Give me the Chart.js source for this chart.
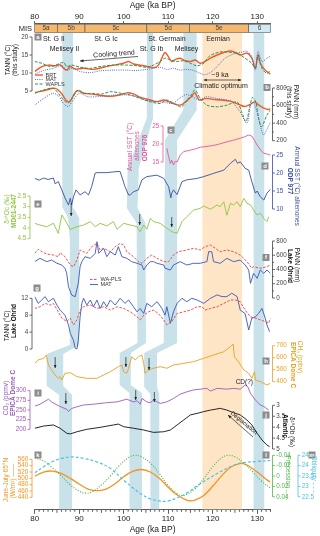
<!DOCTYPE html>
<html><head><meta charset="utf-8">
<script src="https://cdn.jsdelivr.net/npm/chart.js@4.4.1/dist/chart.umd.min.js"></script>
<style>html,body{margin:0;padding:0;background:#fff}#wrap{width:320px;height:536px;position:relative}</style>
</head><body><div id="wrap"><canvas id="c"></canvas></div>
<script>
// ================= DATA =================
const ageTicks = [80, 90, 100, 110, 120, 130];
const misEdges = [80, 85.1, 91.3, 105.2, 114.8, 128.1, 133];
const misNames = ['5a', '5b', '5c', '5d', '5e', '6'];

// (a) TANN this study
const aBrtAge = [80,81.6,83.1,84.6,85.7,86.5,87.2,88.0,89.1,91.0,93.2,95.5,97.7,100,101.1,102.2,104.5,106.7,107.8,108.7,109.3,110.1,110.8,111.7,112.7,113.8,115.0,116.1,117.2,118.3,119.5,121,122.5,124,125.1,126.2,127.7,128.8,129.6,130.2,130.7,131.8,133];
const aBrtVal = [10.4,11.8,12.2,12.0,12.3,11.3,10.8,11.8,11.1,11.3,11.0,11.6,12.2,12.7,13.2,12.5,12.0,11.5,12.2,14.5,15.7,14.4,13.2,13.8,14.1,13.4,13.2,13.6,12.7,13.2,14.1,15.0,15.7,16.1,15.7,15.0,15.5,14.1,11.3,15.0,12.7,10.8,9.7];
const aMatAge = [80,82,84.2,86.1,87.2,88.3,90.2,92.5,94.7,97.7,100.7,103,105.2,106.7,108.2,109.7,111.2,112.7,114.2,115.7,117.2,118.3,119.8,121.3,122.8,124.7,126.2,127.7,128.8,129.6,130.2,131.1,132.2,133];
const aMatVal = [9.7,10.7,11.3,12.0,10.8,11.3,10.4,10.1,10.6,10.8,10.8,10.7,11.0,11.3,11.6,11.0,11.3,10.8,11.0,10.7,9.9,9.5,10.4,12.2,14.1,15.3,15.7,16.0,14.5,10.8,16.0,13.2,14.1,14.7];
const aWapAge = [80,81.6,83.5,85.3,86.5,87.2,88.3,90.2,92.5,94.7,97.7,100.7,103,105.2,106.7,108.2,109.3,110.5,112,113.5,115,116.5,118,119.1,120.6,122.1,124,125.5,127.3,128.8,129.6,130.2,131.1,132.2,133];
const aWapVal = [13.2,12.7,11.8,12.5,12.9,11.8,12.2,11.6,11.3,11.8,12.2,12.2,12.0,11.6,12.2,13.2,14.1,13.6,13.2,13.4,12.7,12.0,12.7,14.5,15.5,15.9,15.7,15.5,14.1,12.7,11.3,15.0,11.3,9.9,10.8];

// (b) PANN this study
const bBrtAge = [80,82,84.6,86,87,87.8,89.5,91,93,95,97,99,100.7,102,104,106,107.5,109,111,112.7,114,115.2,116,117,118.5,120,122,124,126,127.2,128.3,129.4,130.4,131.4,132.5,133];
const bBrtVal = [747,769,796,740,663,643,769,740,730,715,705,720,745,735,690,663,645,663,625,605,645,700,745,663,682,670,663,650,610,590,610,640,605,575,555,565];
const bMatAge = [80,82,84.2,85.5,86.5,87.5,88.5,90,92,95,98,101,103,105,107,109,111,112.5,114,115.5,117,118.5,121,124,126,127.7,128.5,129.2,130,131.4,132.2,133];
const bMatVal = [605,680,740,700,620,590,650,740,700,705,720,720,700,660,645,640,625,680,725,700,663,700,680,650,540,400,600,630,520,265,330,415];
const bWapAge = [80,82,84.2,86.5,87.6,89.8,91,93,95,97,99.5,101.5,103.7,106,108.2,109.7,112,113,114.2,115.2,116,117.2,118.7,121,123.2,125.5,126.5,127.5,128.9,129.7,130.3,131,132.2,133];
const bWapVal = [739,777,796,663,632,777,739,739,730,758,739,720,682,643,624,663,605,586,663,720,777,682,605,586,605,640,530,420,690,640,459,360,493,550];

// (c) ODP 976 SST
const cAge = [109.7,110.1,110.5,110.8,111.2,111.6,112,112.7,113.5,114.3,115,116,117.2,118.5,120.2,121.5,123.2,124.5,126.2,127.2,128.1,128.8,129.4,130,130.8,131.5,132.3,133];
const cVal = [18.8,16.5,14.6,15.5,14.2,15.2,15.0,16.9,17.9,18.1,18.3,18.6,19.1,19.3,19.6,20.0,20.6,21.0,21.6,22.0,22.5,22.2,21.0,19.7,18.3,17.4,17.2,16.9];

// (d) ODP 977 SST
const dAge = [80,81,82,83,84.2,84.6,85.3,86.1,86.8,87.6,88,88.3,88.7,89.3,90.2,91.3,92.1,92.8,93.6,94,96.2,98.5,99.2,100.3,101.1,101.5,102.2,103.3,104.1,105.2,107.5,109,110.1,110.6,110.8,111.2,112,113.1,114.2,116.5,118,120.2,122.5,124,125.1,125.6,126.2,127.3,128.1,128.8,129.6,130,130.7,131.5,132.2,133];
const dVal = [18.5,18.0,18.6,18.2,18.6,17.0,17.6,15.3,13.1,11.1,13.0,11.2,13.4,15.3,13.9,14.8,13.9,16.2,20.0,20.1,20.1,20.4,20.4,16.2,13.9,13.9,14.8,15.3,18.1,19.0,19.4,18.5,16.2,13.1,14.4,15.3,14.0,17.6,18.1,18.5,19.0,19.9,20.8,22.7,23.8,22.7,23.1,21.3,20.8,17.6,14.4,15.0,13.4,12.5,14.4,15.5];

// (e) d18O MD01-2447
const eAge = [80,81.2,82.7,84.2,85.3,86.1,86.8,88,89.5,91,92.5,93.6,94.7,96.2,97.7,98.5,100,101.5,103,103.7,104.5,105.2,106,106.7,108.2,109.7,110.8,112,113.1,114.2,115.7,117.2,118,119.5,121,121.7,122.5,123.2,124,124.7,125.5,126.2,127,127.7,128.5,129.2,130,130.7,131.5,132.2,132.6];
const eVal = [3.78,3.86,3.94,3.78,4.25,3.39,3.62,4.06,3.94,3.86,3.70,3.94,3.78,3.90,3.70,4.06,3.78,3.86,3.94,4.17,3.86,4.06,3.55,3.70,3.78,4.01,4.17,4.25,3.70,3.47,3.16,3.08,2.97,3.12,2.92,3.0,2.77,3.40,2.84,2.92,2.77,3.0,2.61,2.84,2.92,3.16,3.39,3.31,3.55,3.70,3.47];

// (f) PANN Lake Ohrid
const fWaAge = [80,80.8,81.6,82.7,84.2,85.3,85.7,86.8,88,88.7,89.5,90.2,91.7,92.8,94,94.7,95.5,97,98.1,99.2,100,100.7,102.2,103.3,104.1,105.2,106.3,107.5,109,110.1,111.2,112.3,114.2,115.7,117.2,118.3,119.5,120.6,121.7,123.2,124.7,126.2,127.7,128.8,129.2,130.7,132.2,133];
const fWaVal = [627,683,650,617,603,580,636,580,463,439,533,674,627,720,767,674,697,650,720,767,744,650,580,510,487,557,603,557,510,510,603,650,674,697,674,720,744,697,650,674,650,603,510,417,439,417,439,463];
const fMatAge = [80,81.2,82.7,83.8,85,86.1,86.8,87.2,87.6,88.3,89.1,89.8,90.2,90.6,91.3,92.5,93.6,94,94.4,95.5,96.2,97,98.1,98.8,99.6,100.7,101.8,103,104.1,104.5,105.2,106,106.7,107.5,109,109.3,110.5,111.2,112.7,114.2,115.7,117.2,118.7,119.1,119.8,120.2,121.7,123.2,124.7,126.2,127.3,128.1,128.5,129.2,130,130.7,131.5,132.2,133];
const fMatVal = [510,557,510,533,487,463,417,346,158,42,18,206,439,510,580,557,627,790,627,697,580,650,603,720,580,557,510,487,463,393,463,510,510,487,463,417,393,463,510,463,487,487,510,650,650,510,487,557,510,533,463,393,206,346,276,393,346,393,346];

// (g) TANN Lake Ohrid
const gMatAge = [80,80.8,81.6,82.3,83.1,84.2,85,85.7,86.8,87.6,88,88.7,89.1,89.5,89.8,90.2,90.6,91,91.7,92.5,93.2,94,94.7,95.5,96.2,97,98.1,99.2,100.3,101.1,102.2,103,103.7,104.5,105.2,106.3,107.5,108.6,109.3,109.7,110.5,111.2,112,113.1,114.2,115.3,116.5,118,119.5,121,122.1,123.2,124.3,125.5,126.2,127.3,128.1,128.8,129.6,130.3,131.1,131.8,132.2,132.8];
const gMatVal = [12.4,10.8,11.6,12.4,11.2,12.0,10.4,9.2,8.0,5.7,3.7,2.1,0.2,0.0,2.1,7.6,10.8,12.0,10.4,11.6,10.0,11.6,9.6,11.2,10.0,11.6,10.4,12.0,10.8,11.6,10.0,8.8,9.6,8.4,10.8,10.0,11.2,9.6,8.0,10.0,6.1,8.8,10.8,12.0,11.2,12.0,11.6,10.8,12.0,12.8,12.4,12.4,13.2,12.4,9.2,8.4,4.5,7.3,7.6,8.4,9.6,7.3,5.7,4.1];
const gWaAge = [80,81.2,82.3,83.5,84.2,85.3,86.1,87.2,88,88.7,89.5,90.2,91,92.5,94,95.5,97,98.5,100,101.5,103,103.7,104.5,105.6,106.7,107.8,109,109.7,110.8,112,113.5,115,116.5,117.6,118.3,119.5,121,122.5,124,125.1,126.2,127.3,128.5,129.6,130.7,131.8,132.6,133];
const gWaVal = [9.6,10.0,10.8,10.4,10.8,8.8,7.3,6.5,7.3,5.7,6.9,9.2,10.0,10.4,9.6,10.0,9.2,10.0,9.6,8.8,7.6,6.9,8.0,8.8,9.2,8.4,6.9,5.7,6.5,8.4,8.8,9.2,10.0,10.0,9.2,9.6,10.0,10.8,11.6,11.6,11.2,9.2,7.6,7.3,6.9,6.5,6.1,7.3];

// (h) CH4 EPICA Dome C
const hAge = [80,80.8,82,82.6,83.1,83.8,84.6,85.3,85.7,86.1,86.8,88,89.5,91.7,94,94.7,97,98.8,99.6,100,100.7,101.1,101.8,102.6,103.3,104.1,104.5,104.8,105.6,106.7,108.2,109.7,111.2,113.5,115.7,118,120.2,122.5,124,124.6,124.9,125.8,127,128.1,128.8,129.4,129.6,130.7,132.2,133];
const hVal = [553,581,595,622,539,498,456,428,442,414,470,475,442,428,428,442,483,525,539,483,470,512,608,581,608,622,553,470,498,512,525,512,539,553,567,595,622,650,692,714,608,567,498,470,428,483,414,400,373,387];

// (i) CO2 EPICA Dome C
const iAge = [80,81.2,83.1,83.8,85,86.1,87.2,87.6,88.3,89.1,91,93.2,96.2,98.5,100.7,102.2,103,103.7,104.1,105.2,106,106.7,107.5,108.2,109.7,111.2,112.7,114.2,115.7,117.2,118.7,119.5,121,123.2,124.7,126.2,127.3,127.9,128.5,129.6,130.7,131.5,132.6];
const iVal = [260,265,278,271,263,257,252,246,254,257,263,265,269,271,278,271,274,265,280,271,269,276,271,267,271,280,291,297,302,304,306,299,306,304,306,304,315,310,293,276,263,259,250];

// (j) benthic d18O Atlantic
const jAge = [80,82,84.2,85.7,87.2,88,89.5,91.7,94.7,97.7,98.8,100,102.2,104.5,106.7,109,110.5,112,113.5,115,116.5,118,119.5,121.7,123.2,124.7,126.2,127.7,128.8,130,131.1,132.2,132.8];
const jVal = [4.05,3.95,3.90,4.05,4.28,4.31,4.21,4.10,4.01,3.90,3.86,3.98,4.05,4.13,4.24,4.21,4.13,3.90,3.67,3.44,3.37,3.29,3.22,3.14,3.22,3.34,3.44,3.67,3.90,4.28,4.59,4.82,4.89];

// (k) June-July insolation 65N, (l) precession, (m) obliquity
const kAge = [80,82,84,86,88,90,92,94,96,98,100,102,104,106,108,110,112,114,115,116,118,120,122,124,126,127,128,130,132,133];
const kVal = [507,520,523,515,500,482,466,461,466,482,505,522,528,520,500,472,447,432,429,431,446,475,508,535,547,546,540,520,497,488];
const lAge = [80,82,84,86,88,90,91.5,93,95,97,99,101,102.5,104,106,108,110,112,113,114,116,118,120,122,123.5,125,127,129,131,133];
const lVal = [-0.035,-0.029,-0.016,0.0,0.017,0.029,0.033,0.03,0.017,0.0,-0.02,-0.035,-0.04,-0.037,-0.025,-0.005,0.018,0.034,0.038,0.036,0.025,0.005,-0.018,-0.035,-0.04,-0.037,-0.025,-0.008,0.01,0.023];
const mAge = [80,82,84,86,88.5,91,94,97,100,102,104,106,108,110,112,114,117,121,124.7,127,130,133];
const mVal = [23.65,23.95,24.2,24.35,24.42,24.35,24.18,23.87,23.3,22.95,22.62,22.4,22.3,22.3,22.45,22.66,23.1,23.62,24.02,24.15,24.2,24.25];

// tick labels of the panel axes
const aTicks = [5, 10, 15, 20];
const bTicks = [200, 400, 600, 800];
const cTicks = [15, 20, 25];
const dTicks = [10, 15, 20, 25];
const eTicks = [2.5, 3, 3.5, 4, 4.5];
const fTicks = [0, 200, 400, 600, 800];
const gTicks = [0, 4, 8, 12];
const hTicks = [400, 500, 600, 700];
const iTicks = [200, 225, 250, 275, 300];
const jTicks = [3, 3.5, 4, 4.5, 5];
const kTicks = [440, 460, 480, 500, 520, 540, 560];
const lTicks = [-0.04, -0.02, 0, 0.02, 0.04];
const mTicks = [22.5, 23, 23.5, 24, 24.5];

// ================= LAYOUT / STYLE =================
const FONT = "'Liberation Sans', Arial, Helvetica, sans-serif";
Chart.defaults.font.family = FONT;

// vertical placement of each panel (value -> pixel anchors)
const panelPlace = {
  yA: {v1: 20, p1: 37, v2: 5, p2: 91},
  yB: {v1: 800, p1: 88, v2: 200, p2: 140.7},
  yC: {v1: 25, p1: 126, v2: 15, p2: 162},
  yD: {v1: 25, p1: 155, v2: 10, p2: 209},
  yE: {v1: 2.5, p1: 196, v2: 4.5, p2: 238.7},
  yF: {v1: 800, p1: 241, v2: 0, p2: 298},
  yG: {v1: 12, p1: 298.3, v2: 0, p2: 349},
  yH: {v1: 700, p1: 345.7, v2: 400, p2: 381.7},
  yI: {v1: 300, p1: 390.7, v2: 200, p2: 429.3},
  yJ: {v1: 3, p1: 405.3, v2: 5, p2: 449},
  yK: {v1: 560, p1: 459.4, v2: 440, p2: 497.3},
  yL: {v1: -0.04, p1: 455.3, v2: 0.04, p2: 496.8},
  yM: {v1: 24.5, p1: 455.3, v2: 22.5, p2: 496.8}
};
const COL = {
  brt: '#f15a2b', mat: '#5468cf', wap: '#2f9447', pink: '#e4559e', d: '#3a4da5', e: '#8dc540',
  wa: '#ee3d3d', matO: '#3957bd', h: '#e8a220', i: '#9b5cbd', j: '#111111', k: '#f7931e', l: '#4fb84a', m: '#4cc3df',
  ax: '#444444'
};
const yAxesDraw = [
  {id: 'yA', ticks: aTicks, x: 32, side: 'left', color: COL.ax},
  {id: 'yB', ticks: bTicks, x: 272.5, side: 'right', color: COL.ax, minor: true},
  {id: 'yC', ticks: cTicks, x: 163, side: 'left', color: COL.pink},
  {id: 'yD', ticks: dTicks, x: 272.5, side: 'right', color: COL.d},
  {id: 'yE', ticks: eTicks, x: 30, side: 'left', color: COL.e},
  {id: 'yF', ticks: fTicks, x: 272.5, side: 'right', color: COL.ax, minor: true},
  {id: 'yG', ticks: gTicks, x: 32, side: 'left', color: COL.ax},
  {id: 'yH', ticks: hTicks, x: 272.5, side: 'right', color: COL.h},
  {id: 'yI', ticks: iTicks, x: 30, side: 'left', color: COL.i},
  {id: 'yJ', ticks: jTicks, x: 272.5, side: 'right', color: COL.ax},
  {id: 'yK', ticks: kTicks, x: 32, side: 'left', color: COL.k},
  {id: 'yL', ticks: lTicks, x: 272.5, side: 'right', color: COL.l, fmt: v => v === 0 ? '0' : (v < 0 ? '-' : '') + Math.abs(v).toFixed(2)},
  {id: 'yM', ticks: mTicks, x: 298, side: 'right', color: COL.m}
];
// shaded intervals: [y px, left age, right age]
const blueBands = [
  [[33,86.2,88.6],[207,86.2,88.6],[218,87.5,90.0],[240,87.9,90.0],[345,87.9,90.0],[354,82.7,86.4],[386,82.7,86.4],[395,85.5,88.4],[512,85.5,88.4]],
  [[33,105.2,106.6],[118,105.2,106.6],[168,100.9,103.4],[208,100.7,103.1],[223,102.9,104.9],[343,103.1,105.0],[353,99.1,101.6],[385,99.1,101.6],[393,101.3,104.1],[512,101.3,104.1]],
  [[33,113.4,116.4],[110,113.4,116.4],[140,109.3,112.0],[343,109.0,112.0],[353,104.6,107.5],[387,104.6,107.5],[394,106.0,108.0],[512,106.0,108.0]],
  [[33,129.2,131.6],[512,129.2,131.6]]
];
const eemian = [117.7, 126.6];
const downArrows = [[88.2,203,216],[103.6,214,225],[110.8,217,227],[84.6,357,368],[100.5,357,367],[105.7,358,370],[87.0,393,404],[102.7,390,400],[106.9,392,402]];
const boxes = [['a',38,37],['b',267,87.5],['c',171,130],['d',265,166],['e',38,204],['f',266,257.5],['g',37,288],['h',266,361],['i',38,393],['j',266,415],['k',38,455],['l',266,455],['m',312,455]];
const T = 6.5; // axis title size
const texts = [
  {s:'St. G II', x:43, y:39, align:'left'},
  {s:'St. G Ic', x:106, y:39}, {s:'St. Germain', x:167, y:39}, {s:'Eemian', x:218, y:39},
  {s:'Melisey II', x:64.5, y:49}, {s:'St. G Ib', x:151.5, y:49}, {s:'Melisey', x:186.5, y:49},
  {s:'Cooling trend', x:114, y:54, rot:-0.07},
  {s:'~9 ka', x:220, y:75}, {s:'Climatic optimum', x:221, y:86},
  {s:'CD(?)', x:253, y:382, align:'right', size:6.5},
  {s:'Deglaciation', x:244, y:423, rot:0.7, size:6},
  {s:'MIS', x:32, y:28.5, align:'right', size:7.5},
  // axis titles
  {s:'TANN (°C)', x:8, y:60, rot:-Math.PI/2, size:T},
  {s:'(this study)', x:15, y:60, rot:-Math.PI/2, size:T},
  {s:'PANN (mm)', x:295.5, y:102, rot:Math.PI/2, size:T},
  {s:'(this study)', x:289, y:102, rot:Math.PI/2, size:T},
  {s:'Annual SST (°C)', x:130, y:147, rot:-Math.PI/2, color:COL.pink, size:T},
  {s:'alkenones', x:137.5, y:146, rot:-Math.PI/2, color:COL.pink, size:T},
  {s:'ODP 976', x:145, y:148, rot:-Math.PI/2, color:COL.pink, bold:true, size:T},
  {s:'Annual SST (°C) alkenones', x:297, y:186, rot:Math.PI/2, color:COL.d, size:T},
  {s:'ODP 977', x:289.5, y:181, rot:Math.PI/2, color:COL.d, bold:true, size:T},
  {s:'δ¹⁸Oc (‰)', x:7, y:209, rot:-Math.PI/2, color:COL.e, size:T},
  {s:'MD01-2447', x:14.5, y:211, rot:-Math.PI/2, color:COL.e, bold:true, size:T},
  {s:'PANN (mm)', x:297, y:265, rot:Math.PI/2, size:T},
  {s:'Lake Ohrid', x:289.5, y:266, rot:Math.PI/2, bold:true, color:'#111', size:T},
  {s:'TANN (°C)', x:7, y:326, rot:-Math.PI/2, size:T},
  {s:'Lake Ohrid', x:14.5, y:321, rot:-Math.PI/2, bold:true, color:'#111', size:T},
  {s:'CH₄ (ppbv)', x:300, y:357, rot:Math.PI/2, color:COL.h, size:T},
  {s:'EPICA Dome C', x:292.5, y:365, rot:Math.PI/2, color:COL.h, bold:true, size:T},
  {s:'CO₂ (ppmv)', x:6, y:398, rot:-Math.PI/2, color:COL.i, size:T},
  {s:'EPICA Dome C', x:13.5, y:393, rot:-Math.PI/2, color:COL.i, bold:true, size:T},
  {s:'δ¹⁸Ob (‰)', x:292, y:432, rot:Math.PI/2, size:T},
  {s:'Atlantic', x:285, y:426, rot:Math.PI/2, bold:true, color:'#111', size:T},
  {s:'June-July 65°N', x:6, y:480, rot:-Math.PI/2, color:COL.k, size:T},
  {s:'(W/m²) ——', x:13.5, y:481, rot:-Math.PI/2, color:COL.k, size:T},
  {s:'Precession ......', x:288, y:478, rot:Math.PI/2, color:COL.l, size:T},
  {s:'Obliquity - - -', x:314, y:474, rot:Math.PI/2, color:COL.m, size:T}
];

// ================= CHART =================
function ds(ages, vals, yId, color, width, dash, tension) {
  return {data: ages.map((a, i) => ({x: a, y: vals[i]})), xAxisID: 'x', yAxisID: yId,
    borderColor: color, backgroundColor: color, borderWidth: width, borderDash: dash || [],
    pointRadius: 0, tension: tension || 0, fill: false};
}
const datasets = [
  ds(aMatAge, aMatVal, 'yA', COL.mat, 1, [1, 1.2], 0.3),
  ds(aWapAge, aWapVal, 'yA', COL.wap, 1, [3, 1.5], 0.3),
  ds(aBrtAge, aBrtVal, 'yA', COL.brt, 1.4, [], 0.3),
  ds(bMatAge, bMatVal, 'yB', COL.mat, 1, [1, 1.2], 0.3),
  ds(bWapAge, bWapVal, 'yB', COL.wap, 1, [3, 1.5], 0.3),
  ds(bBrtAge, bBrtVal, 'yB', COL.brt, 1.4, [], 0.3),
  ds(cAge, cVal, 'yC', COL.pink, 0.9),
  ds(dAge, dVal, 'yD', COL.d, 0.9),
  ds(eAge, eVal, 'yE', COL.e, 0.9),
  ds(fWaAge, fWaVal, 'yF', COL.wa, 0.9, [2.5, 1.5]),
  ds(fMatAge, fMatVal, 'yF', COL.matO, 0.9),
  ds(gWaAge, gWaVal, 'yG', COL.wa, 0.9, [2.5, 1.5]),
  ds(gMatAge, gMatVal, 'yG', COL.matO, 0.9),
  ds(hAge, hVal, 'yH', COL.h, 0.9),
  ds(iAge, iVal, 'yI', COL.i, 0.9),
  ds(jAge, jVal, 'yJ', COL.j, 0.9),
  ds(lAge, lVal, 'yL', COL.l, 1.2, [1, 1.6], 0.4),
  ds(mAge, mVal, 'yM', COL.m, 1.2, [3, 2], 0.4),
  ds(kAge, kVal, 'yK', COL.k, 1.3, [], 0.4)
];

function txt(ctx, o) {
  ctx.save();
  ctx.translate(o.x, o.y);
  if (o.rot) ctx.rotate(o.rot);
  ctx.font = (o.bold ? 'bold ' : '') + (o.size || 7) + 'px ' + FONT;
  ctx.fillStyle = o.color || '#222';
  ctx.textAlign = o.align || 'center';
  ctx.textBaseline = 'middle';
  ctx.fillText(o.s, 0, 0);
  ctx.restore();
}
function head(ctx, x, y, ang, size) {
  const c = Math.cos(ang), s = Math.sin(ang);
  ctx.beginPath();
  ctx.moveTo(x, y);
  ctx.lineTo(x - size * c + size * 0.45 * s, y - size * s - size * 0.45 * c);
  ctx.lineTo(x - size * c - size * 0.45 * s, y - size * s + size * 0.45 * c);
  ctx.closePath(); ctx.fill();
}
function arrow(ctx, x1, y1, x2, y2, size, both) {
  ctx.beginPath(); ctx.moveTo(x1, y1); ctx.lineTo(x2, y2); ctx.stroke();
  const ang = Math.atan2(y2 - y1, x2 - x1);
  head(ctx, x2, y2, ang, size);
  if (both) head(ctx, x1, y1, ang + Math.PI, size);
}

const placePlugin = {
  id: 'place',
  afterLayout(chart) {
    const ca = chart.chartArea;
    for (const id in panelPlace) {
      const m = panelPlace[id], s = chart.scales[id];
      const k = (m.v2 - m.v1) / (m.p2 - m.p1);
      const vTop = m.v1 + (ca.top - m.p1) * k;
      const vBot = m.v1 + (ca.bottom - m.p1) * k;
      s.min = Math.min(vTop, vBot); s.max = Math.max(vTop, vBot);
      s.configure();
    }
  }
};

const decoPlugin = {
  id: 'deco',
  beforeDatasetsDraw(chart) {
    const ctx = chart.ctx, xs = chart.scales.x, ca = chart.chartArea;
    ctx.save();
    ctx.fillStyle = '#fde5c6';
    const ex0 = xs.getPixelForValue(eemian[0]), ex1 = xs.getPixelForValue(eemian[1]);
    ctx.fillRect(ex0, 33, ex1 - ex0, ca.bottom - 33 - 0.5);
    ctx.fillStyle = '#c9e1e8';
    blueBands.forEach(b => {
      ctx.beginPath();
      b.forEach((p, i) => { const y = Math.min(p[0], ca.bottom - 0.5); const x = xs.getPixelForValue(p[1]); i ? ctx.lineTo(x, y) : ctx.moveTo(x, y); });
      for (let i = b.length - 1; i >= 0; i--) { const y = Math.min(b[i][0], ca.bottom - 0.5); ctx.lineTo(xs.getPixelForValue(b[i][2]), y); }
      ctx.closePath(); ctx.fill();
    });
    ctx.restore();
  },
  afterDatasetsDraw(chart) {
    const ctx = chart.ctx, xs = chart.scales.x, ca = chart.chartArea;
    ctx.save();
    for (let i = 0; i < misNames.length; i++) {
      const x0 = xs.getPixelForValue(misEdges[i]), x1 = xs.getPixelForValue(misEdges[i + 1]);
      ctx.fillStyle = i < 5 ? '#f6b86c' : '#d3e9f2';
      ctx.fillRect(x0, 24.5, x1 - x0, 8);
      ctx.strokeStyle = '#555'; ctx.lineWidth = 0.6;
      ctx.strokeRect(x0, 24.5, x1 - x0, 8);
      txt(ctx, {s: misNames[i], x: (x0 + x1) / 2, y: 28.7, size: 6.5, color: '#444'});
    }
    ctx.strokeStyle = '#333'; ctx.lineWidth = 0.8;
    for (let a = 81; a <= 133; a++) {
      if (a % 10 === 0) continue;
      const x = xs.getPixelForValue(a), len = a % 5 === 0 ? 3 : 2;
      ctx.beginPath(); ctx.moveTo(x, ca.bottom); ctx.lineTo(x, ca.bottom + len); ctx.stroke();
    }
    yAxesDraw.forEach(ax => {
      const s = chart.scales[ax.id];
      const ps = ax.ticks.map(v => s.getPixelForValue(v));
      const top = Math.min(...ps), bot = Math.max(...ps);
      const dir = ax.side === 'left' ? -1 : 1;
      ctx.strokeStyle = ax.color; ctx.lineWidth = 0.8;
      ctx.beginPath(); ctx.moveTo(ax.x, top); ctx.lineTo(ax.x, bot); ctx.stroke();
      ctx.fillStyle = ax.color;
      ctx.font = '6.3px ' + FONT;
      ctx.textAlign = ax.side === 'left' ? 'right' : 'left';
      ctx.textBaseline = 'middle';
      ax.ticks.forEach((v, i) => {
        const y = ps[i];
        ctx.beginPath(); ctx.moveTo(ax.x, y); ctx.lineTo(ax.x + dir * 2.5, y); ctx.stroke();
        ctx.fillText(ax.fmt ? ax.fmt(v) : String(v), ax.x + dir * 3.8, y);
        if (ax.minor && i < ax.ticks.length - 1) {
          const ym = (ps[i] + ps[i + 1]) / 2;
          ctx.beginPath(); ctx.moveTo(ax.x, ym); ctx.lineTo(ax.x + dir * 1.5, ym); ctx.stroke();
        }
      });
    });
    boxes.forEach(b => {
      ctx.fillStyle = '#8c8c8c';
      ctx.fillRect(b[1] - 3.5, b[2] - 3.5, 7, 7);
      txt(ctx, {s: b[0], x: b[1], y: b[2] + 0.2, size: 6, bold: true, color: '#fff'});
    });
    texts.forEach(t => txt(ctx, t));
    ctx.strokeStyle = '#222'; ctx.fillStyle = '#222'; ctx.lineWidth = 0.7;
    downArrows.forEach(a => { const x = xs.getPixelForValue(a[0]); arrow(ctx, x, a[1], x, a[2], 3); });
    arrow(ctx, 138, 56.5, 80, 61, 3.5);
    arrow(ctx, xs.getPixelForValue(118), 80, xs.getPixelForValue(126.4), 80, 3, true);
    arrow(ctx, 253, 437, 228, 415, 3.5);
    const leg = (y, color, dash, w, label, x0) => {
      ctx.save(); ctx.strokeStyle = color; ctx.lineWidth = w; ctx.setLineDash(dash);
      ctx.beginPath(); ctx.moveTo(x0, y); ctx.lineTo(x0 + 8, y); ctx.stroke(); ctx.restore();
      txt(ctx, {s: label, x: x0 + 10.5, y: y, align: 'left', size: 5.5, color: '#333'});
    };
    leg(75, COL.brt, [], 1.4, 'BRT', 35);
    leg(79.5, COL.mat, [1, 1.2], 1, 'MAT', 35);
    leg(84, COL.wap, [3, 1.5], 1, 'WAPLS', 35);
    leg(279.5, COL.wa, [2.5, 1.5], 0.9, 'WA-PLS', 90);
    leg(284.5, COL.matO, [], 0.9, 'MAT', 90);
    ctx.restore();
  }
};

const yScale = (rev) => ({type: 'linear', display: false, reverse: !!rev});
new Chart(document.getElementById('c'), {
  type: 'line',
  data: {datasets},
  options: {
    responsive: true, maintainAspectRatio: false, animation: false,
    layout: {padding: {left: 34.7, right: 49.5, top: 0, bottom: 1}},
    plugins: {legend: {display: false}, tooltip: {enabled: false}},
    scales: {
      x: {type: 'linear', position: 'bottom', min: 80, max: 133,
        afterBuildTicks: s => { s.ticks = ageTicks.map(v => ({value: v})); },
        ticks: {font: {size: 8, lineHeight: 1}, color: '#222', padding: 1, maxRotation: 0, autoSkip: false},
        grid: {drawOnChartArea: false, drawTicks: true, tickLength: 4, tickColor: '#333', tickWidth: 0.8},
        border: {display: true, color: '#333', width: 0.8},
        title: {display: true, text: 'Age (ka BP)', font: {size: 8.5}, color: '#222', padding: {top: 1, bottom: 0}}},
      x2: {type: 'linear', position: 'top', min: 80, max: 133,
        afterBuildTicks: s => { s.ticks = ageTicks.map(v => ({value: v})); },
        ticks: {font: {size: 8, lineHeight: 1}, color: '#222', padding: 0, maxRotation: 0, autoSkip: false},
        grid: {drawOnChartArea: false, drawTicks: true, tickLength: 2, tickColor: '#333', tickWidth: 0.8},
        border: {display: true, color: '#333', width: 0.8},
        title: {display: true, text: 'Age (ka BP)', font: {size: 8.5}, color: '#222', padding: {top: 1, bottom: 2}}},
      yA: yScale(), yB: yScale(), yC: yScale(), yD: yScale(), yE: yScale(true), yF: yScale(),
      yG: yScale(), yH: yScale(), yI: yScale(), yJ: yScale(true), yK: yScale(), yL: yScale(true), yM: yScale()
    }
  },
  plugins: [placePlugin, decoPlugin]
});
</script></body></html>
